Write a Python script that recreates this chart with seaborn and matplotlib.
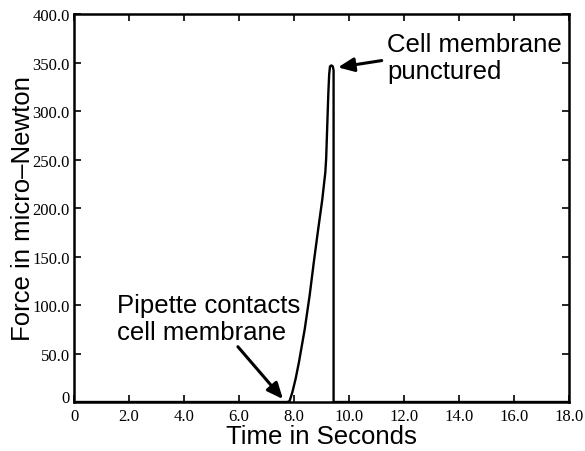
import matplotlib
matplotlib.use("Agg")
import matplotlib.pyplot as plt
import seaborn as sns
import pandas as pd

# Force trace during pipette injection
time_s = [0.0, 7.76, 7.84, 7.94, 8.06, 8.18, 8.39, 8.57, 8.72, 8.87, 9.03, 9.14,
          9.17, 9.21, 9.25, 9.28, 9.31, 9.36, 9.41, 9.44, 9.44, 18.0]
force_uN = [0.0, 0.0, 1.0, 10.0, 24.0, 41.0, 75.0, 110.0, 144.0, 176.0, 209.0, 237.0,
            251.0, 285.0, 319.0, 338.0, 346.0, 347.0, 346.0, 342.0, 0.0, 0.0]

x_ticks = [0, 2, 4, 6, 8, 10, 12, 14, 16, 18]
x_tick_labels = ["0", "2.0", "4.0", "6.0", "8.0", "10.0", "12.0", "14.0", "16.0", "18.0"]
y_ticks = [0, 50, 100, 150, 200, 250, 300, 350, 400]
y_tick_labels = ["0", "50.0", "100.0", "150.0", "200.0", "250.0", "300.0", "350.0", "400.0"]

sns.set_theme(style="ticks")
plt.rcParams["font.family"] = ["Liberation Sans", "DejaVu Sans"]

df = pd.DataFrame({"t": time_s, "f": force_uN})

fig = plt.figure(figsize=(5.85, 4.52), dpi=100)
ax = fig.add_axes([0.1265, 0.1084, 0.9726 - 0.1265, 0.9668 - 0.1084])

sns.lineplot(data=df, x="t", y="f", sort=False, estimator=None, color="black",
             linewidth=1.7, ax=ax)
ax.lines[0].set_solid_joinstyle("round")

ax.set_xlim(0, 18)
ax.set_ylim(0, 400)
ax.set_xticks(x_ticks)
ax.set_yticks(y_ticks)
serif = {"family": ["Liberation Serif", "DejaVu Serif"], "size": 12}
ax.set_xticklabels(x_tick_labels, fontdict=serif)
ax.set_yticklabels(y_tick_labels, fontdict=serif)
ax.get_yticklabels()[0].set_verticalalignment("baseline")

ax.tick_params(direction="in", length=5, width=1.2, top=True, right=True,
               colors="black", pad=3)
ax.tick_params(axis="x", pad=4)
for s in ax.spines.values():
    s.set_visible(True)
    s.set_linewidth(1.8)
    s.set_color("black")

ax.set_xlabel("Time in Seconds", fontsize=18.5, color="black", labelpad=0)
ax.set_ylabel("Force in micro\u2013Newton", fontsize=18.5, color="black", labelpad=-2)

arrow = dict(arrowstyle="-|>,head_length=0.8,head_width=0.35", color="black",
             lw=2.2, shrinkA=0, shrinkB=0)
ax.annotate("", xy=(9.60, 345), xytext=(11.19, 352), arrowprops=arrow)
ax.annotate("", xy=(7.60, 3), xytext=(5.96, 57), arrowprops=arrow)

ax.text(11.38, 355, "Cell membrane\npunctured", fontsize=18.5, ha="left",
        va="center", color="black", linespacing=1.15)
ax.text(1.56, 86, "Pipette contacts\ncell membrane", fontsize=18.5, ha="left",
        va="center", color="black", linespacing=1.15)

fig.savefig("out.png", dpi=100)
